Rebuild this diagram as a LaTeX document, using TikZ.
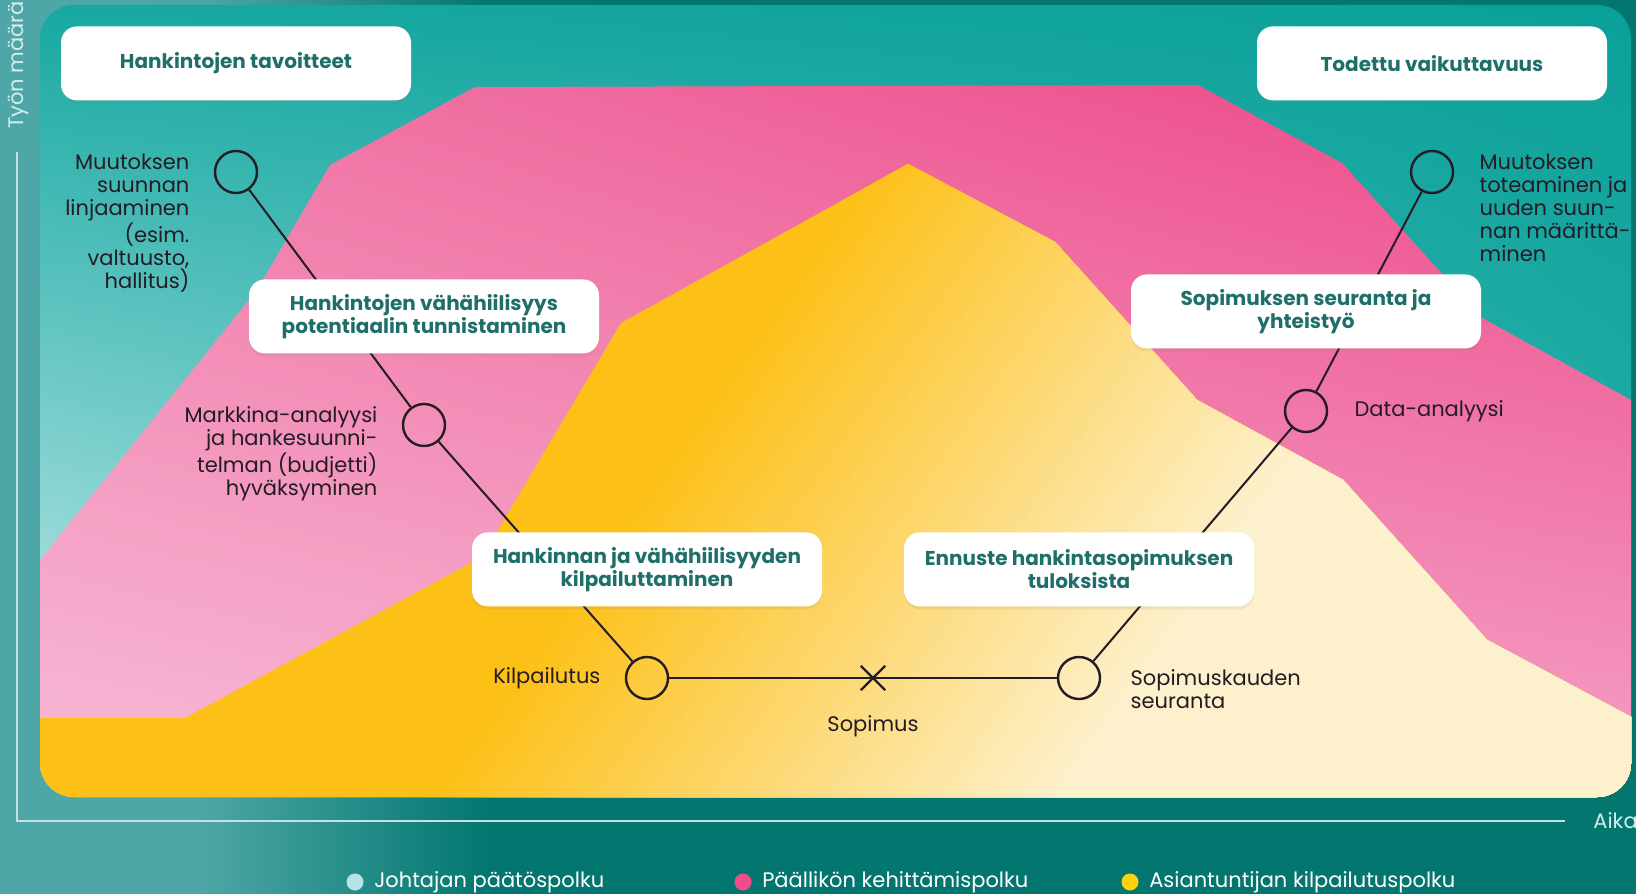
\documentclass[tikz,border=0pt]{standalone}
\usepackage{fontspec}
\setmainfont{Poppins}
\usetikzlibrary{positioning,shapes.misc,shadows,shadings}

\definecolor{bgL}{HTML}{4EA7A6}
\definecolor{bgD}{HTML}{02766F}
\definecolor{boxtext}{HTML}{1E6F6A}
\definecolor{ink}{HTML}{241B25}
\definecolor{axisline}{HTML}{C4E2E1}
\definecolor{paleteal}{HTML}{D4ECEB}
\definecolor{johtaja}{HTML}{B8E3E6}
\definecolor{paallikko}{HTML}{EF4E8A}
\definecolor{asiantuntija}{HTML}{FCD10D}
\definecolor{skyUL}{HTML}{17A8A1}
\definecolor{skyUR}{HTML}{0AA099}
\definecolor{skyLL}{HTML}{D2F0F2}
\definecolor{skyLR}{HTML}{2DB3AD}
\definecolor{roseUL}{HTML}{F07BA9}
\definecolor{roseUR}{HTML}{ED4586}
\definecolor{roseLL}{HTML}{F8BCD8}
\definecolor{roseLR}{HTML}{F4A0C4}
\definecolor{sunA}{HTML}{FDC017}
\definecolor{sunC}{HTML}{FDF0CC}

\pgfdeclarehorizontalshading{bgfade}{100bp}{color(0bp)=(bgL); color(31bp)=(bgL); color(40bp)=(bgD); color(100bp)=(bgD)}

\tikzset{
stage/.style={draw=ink, circle, line width=1.2pt, minimum size=21pt, inner sep=0pt},
goal/.style={fill=white, rounded corners=8pt, minimum width=175pt, minimum height=37pt,
  align=center, text=boxtext, font=\bfseries\fontsize{10}{11.5}\selectfont,
  drop shadow={opacity=0.12, shadow xshift=0pt, shadow yshift=-1.5pt}},
lbl/.style={text=ink, inner sep=0pt, font=\fontsize{10.5}{11.5}\selectfont},
legdot/.style={circle, minimum size=8.5pt, inner sep=0pt},
legtxt/.style={text=white, inner sep=0pt, font=\fontsize{10.5}{12}\selectfont}}

\begin{document}
\begin{tikzpicture}
  [x=0.5pt, y=-0.5pt,
   link/.style={draw=ink, line width=1pt},
   sky/.style={upper left=skyUL, upper right=skyUR, lower left=skyLL, lower right=skyLR},
   rose/.style={upper left=roseUL, upper right=roseUR, lower left=roseLL, lower right=roseLR}]
  \useasboundingbox (0,0) rectangle (1636,893);
  \shade[shading=bgfade] (0,0) rectangle (1636,893);
  \begin{scope}
    \clip[rounded corners=17pt] (40,5) rectangle (1631,797);
    \shade[sky] (40,5) rectangle (1631,797);
    \shade[rose] (40,560) -- (257,290) -- (330,165) -- (475,87) -- (1198,85) -- (1342,163)
      -- (1482,318) -- (1631,400) -- (1631,797) -- (40,797) -- cycle;
    \begin{scope}
      \clip (40,718) -- (185,718) -- (482,557) -- (621,323) -- (908,164) -- (1055,242)
        -- (1197,400) -- (1343,480) -- (1487,640) -- (1631,717) -- (1631,797) -- (40,797) -- cycle;
      \fill[sunA] (0,0) rectangle (1636,893);
      \foreach \i [evaluate=\i as \p using {\i*2.5}, evaluate=\i as \u using {420+\i*15.75}] in {0,...,40}
        \fill[sunC!\p!sunA] (\u,800) -- (1700,800) -- (1700,100) -- ({\u+490},100) -- cycle;
    \end{scope}
  \end{scope}

  \coordinate (ytop) at (17,152);
  \coordinate (origo) at (17,821);
  \coordinate (xend) at (1565,821);
  \draw[axisline, line width=0.8pt] (ytop) -- (origo) -- (xend);
  \node[lbl, text=paleteal, rotate=90] (yname) at (19,65) {Työn määrä};
  \node[lbl, text=paleteal, right=14pt of xend] (xname) {Aika};

  \node[stage] (linjaus) at (236,172) {};
  \node[stage] (analyysi) at (424,425) {};
  \node[stage] (kilpailutus) at (647,678) {};
  \node[stage] (seuranta) at (1079,678) {};
  \node[stage] (data) at (1306,411) {};
  \node[stage] (toteamus) at (1432,172) {};
  \node[draw=ink, cross out, line width=1.2pt, minimum size=11pt, inner sep=0pt] (sopimus) at (873,678) {};

  \draw[link] (linjaus) -- (analyysi) -- (kilpailutus);
  \draw[link, line width=1.4pt] (kilpailutus) -- (seuranta);
  \draw[link] (seuranta) -- (data) -- (toteamus);

  \node[goal, above=24.5pt of linjaus] (tavoitteet) {Hankintojen tavoitteet};
  \node[goal, above=24.5pt of analyysi] (potentiaali) {Hankintojen vähähiilisyys\\potentiaalin tunnistaminen};
  \node[goal, above=24.5pt of kilpailutus] (tarjous) {Hankinnan ja vähähiilisyyden\\kilpailuttaminen};
  \node[goal, above=24.5pt of seuranta] (ennuste) {Ennuste hankintasopimuksen\\tuloksista};
  \node[goal, above=20pt of data] (yhteistyo) {Sopimuksen seuranta ja\\yhteistyö};
  \node[goal, above=24.5pt of toteamus] (vaikutus) {Todettu vaikuttavuus};

  \node[lbl, align=right, anchor=north east, xshift=-12pt, yshift=-2pt] (linjaus-t) at (linjaus.west |- linjaus.north)
    {Muutoksen\\suunnan\\linjaaminen\\(esim.\\valtuusto,\\hallitus)};
  \node[lbl, align=right, anchor=north east, xshift=-12pt, yshift=-1.5pt] (analyysi-t) at (analyysi.west |- analyysi.north)
    {Markkina-analyysi\\ja hankesuunni-\\telman (budjetti)\\hyväksyminen};
  \node[lbl, left=12pt of kilpailutus] (kilpailutus-t) {Kilpailutus};
  \node[lbl, below=12.5pt of sopimus] (sopimus-t) {Sopimus};
  \node[lbl, align=left, anchor=north west, xshift=14.5pt, yshift=-6.5pt] (seuranta-t) at (seuranta.east |- seuranta.north)
    {Sopimuskauden\\seuranta};
  \node[lbl, right=13pt of data] (data-t) {Data-analyysi};
  \node[lbl, align=left, anchor=north west, xshift=12.5pt, yshift=-2pt] (toteamus-t) at (toteamus.east |- toteamus.north)
    {Muutoksen\\toteaminen ja\\uuden suun-\\nan määrittä-\\minen};

  \node[legdot, fill=johtaja] (johtaja-d) at (355,882) {};
  \node[legtxt, right=5pt of johtaja-d] (johtaja-t) {Johtajan päätöspolku};
  \node[legdot, fill=paallikko] (paallikko-d) at (743,882) {};
  \node[legtxt, right=5pt of paallikko-d] (paallikko-t) {Päällikön kehittämispolku};
  \node[legdot, fill=asiantuntija] (asiantuntija-d) at (1130,882) {};
  \node[legtxt, right=5pt of asiantuntija-d] (asiantuntija-t) {Asiantuntijan kilpailutuspolku};
\end{tikzpicture}
\end{document}
